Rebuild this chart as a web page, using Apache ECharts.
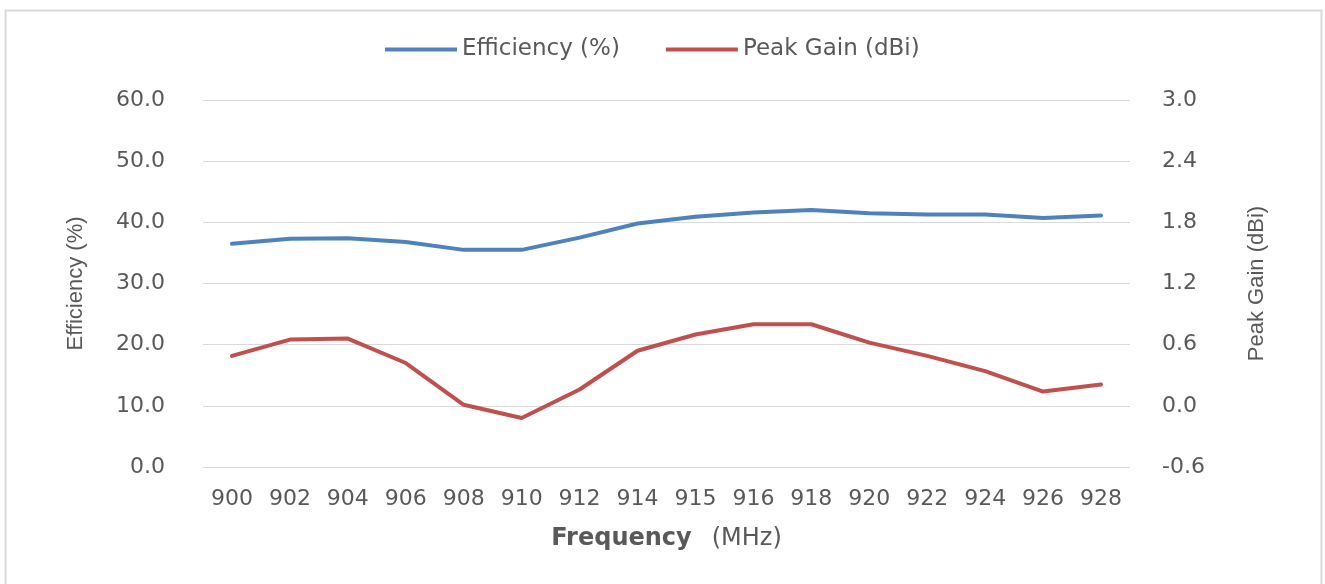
<!DOCTYPE html>
<html>
<head>
<meta charset="utf-8">
<script src="https://cdn.jsdelivr.net/npm/echarts@6/dist/echarts.min.js"></script>
<style>
html,body{margin:0;padding:0;background:#fff;}
#chart{width:1325px;height:584px;}
</style>
</head>
<body>
<div id="chart"></div>
<script>
const categories = ['900','902','904','906','908','910','912','914','915','916','918','920','922','924','926','928'];
const efficiency = [36.5,37.3,37.4,36.8,35.5,35.5,37.5,39.8,40.9,41.6,42.0,41.5,41.3,41.3,40.7,41.1];
const peakGain = [0.49,0.65,0.66,0.42,0.01,-0.12,0.16,0.54,0.70,0.80,0.80,0.62,0.49,0.34,0.14,0.21];
const leftTicks = {min:0, max:60, interval:10};
const rightTicks = {min:-0.6, max:3.0, interval:0.6};

const gray = '#595959';
const chart = echarts.init(document.getElementById('chart'));
chart.setOption({
  animation:false,
  backgroundColor:'#fff',
  graphic:[{
    type:'rect', left:3, top:8, silent:true,
    shape:{width:1316, height:600},
    style:{fill:'none', stroke:'#d9d9d9', lineWidth:2}
  }],
  legend:{
    left:380, top:33,
    icon:'rect', itemWidth:72, itemHeight:4, itemGap:46,
    textStyle:{fontFamily:'DejaVu Sans', fontSize:23, color:gray},
    data:['Efficiency (%)','Peak Gain (dBi)']
  },
  grid:{left:203, right:195, top:100, bottom:117},
  xAxis:{
    type:'category', data:categories, boundaryGap:true,
    axisLine:{show:false}, axisTick:{show:false},
    axisLabel:{fontFamily:'DejaVu Sans', fontSize:22, color:gray, margin:21, interval:0},
    name:'{b|Frequency}{n|(MHz)}', nameLocation:'middle', nameGap:60,
    nameTextStyle:{rich:{
      b:{fontFamily:'DejaVu Sans', fontWeight:'bold', fontSize:24, color:gray},
      n:{fontFamily:'DejaVu Sans', fontSize:24, color:gray, padding:[0,0,0,20]}
    }}
  },
  yAxis:[{
    type:'value', min:leftTicks.min, max:leftTicks.max, interval:leftTicks.interval,
    axisLine:{show:false}, axisTick:{show:false},
    axisLabel:{fontFamily:'DejaVu Sans', fontSize:22, color:gray, margin:38,
      formatter:v=>v.toFixed(1)},
    splitLine:{lineStyle:{color:'#d9d9d9', width:1}},
    name:'Efficiency (%)', nameLocation:'middle', nameGap:116, nameRotate:90,
    nameTextStyle:{fontFamily:'Liberation Sans', fontSize:22, color:gray}
  },{
    type:'value', min:rightTicks.min, max:rightTicks.max, interval:rightTicks.interval,
    axisLine:{show:false}, axisTick:{show:false},
    axisLabel:{fontFamily:'DejaVu Sans', fontSize:22, color:gray, margin:32,
      formatter:v=>v.toFixed(1)},
    splitLine:{show:false},
    name:'Peak Gain (dBi)', nameLocation:'middle', nameGap:116, nameRotate:90,
    nameTextStyle:{fontFamily:'Liberation Sans', fontSize:22, color:gray}
  }],
  series:[{
    name:'Efficiency (%)', type:'line', yAxisIndex:0, data:efficiency,
    showSymbol:false, symbol:'none', color:'#4F81BD',
    lineStyle:{width:4, color:'#4F81BD', join:'round', cap:'round'}
  },{
    name:'Peak Gain (dBi)', type:'line', yAxisIndex:1, data:peakGain,
    showSymbol:false, symbol:'none', color:'#C0504D',
    lineStyle:{width:4, color:'#C0504D', join:'round', cap:'round'}
  }]
});
</script>
</body>
</html>
